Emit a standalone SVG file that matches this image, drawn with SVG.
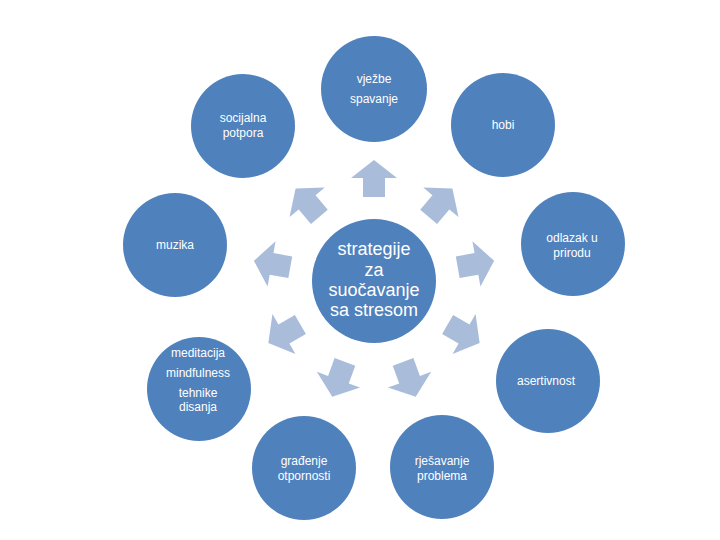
<svg xmlns="http://www.w3.org/2000/svg" width="720" height="540" viewBox="0 0 720 540">
<style>
.c{fill:#4F81BD;}
.t{font-family:"Liberation Sans",Arial,sans-serif;font-size:12px;fill:#ffffff;text-anchor:middle;}
.tc{font-family:"Liberation Sans",Arial,sans-serif;font-size:18px;fill:#ffffff;text-anchor:middle;}
.a{fill:#A9BDDB;}
</style>
<defs>
<path id="arr" d="M85,-11 L104,-11 L104,-23 L122,0 L104,23 L104,11 L85,11 Z"/>
</defs>
<rect width="720" height="540" fill="#ffffff"/>
<g id="connectors" class="a">
<use href="#arr" transform="translate(374,282) rotate(-90)"/>
<use href="#arr" transform="translate(374,282) rotate(-50)"/>
<use href="#arr" transform="translate(374,282) rotate(-10)"/>
<use href="#arr" transform="translate(374,282) rotate(30)"/>
<use href="#arr" transform="translate(374,282) rotate(70)"/>
<use href="#arr" transform="translate(374,282) rotate(110)"/>
<use href="#arr" transform="translate(374,282) rotate(150)"/>
<use href="#arr" transform="translate(374,282) rotate(190)"/>
<use href="#arr" transform="translate(374,282) rotate(230)"/>
</g>
<g id="n-center">
<circle class="c" cx="374" cy="281" r="62"/>
<text class="tc" x="374" y="255">strategije</text>
<text class="tc" x="374" y="276">za</text>
<text class="tc" x="374" y="296">suočavanje</text>
<text class="tc" x="374" y="316">sa stresom</text>
</g>
<g id="n-vjezbe">
<circle class="c" cx="374" cy="89" r="53"/>
<text class="t" x="374" y="83">vježbe</text>
<text class="t" x="374" y="103">spavanje</text>
</g>
<g id="n-hobi">
<circle class="c" cx="503" cy="125" r="52"/>
<text class="t" x="503" y="129">hobi</text>
</g>
<g id="n-odlazak">
<circle class="c" cx="573" cy="244" r="52"/>
<text class="t" x="572" y="242">odlazak u</text>
<text class="t" x="572" y="257">prirodu</text>
</g>
<g id="n-asertivnost">
<circle class="c" cx="548" cy="381" r="52"/>
<text class="t" x="546" y="385">asertivnost</text>
</g>
<g id="n-rjesavanje">
<circle class="c" cx="442" cy="467" r="52"/>
<text class="t" x="442" y="465">rješavanje</text>
<text class="t" x="442" y="480">problema</text>
</g>
<g id="n-gradjenje">
<circle class="c" cx="304" cy="468" r="52"/>
<text class="t" x="304" y="465">građenje</text>
<text class="t" x="304" y="480">otpornosti</text>
</g>
<g id="n-meditacija">
<circle class="c" cx="199" cy="389" r="52"/>
<text class="t" x="198" y="357">meditacija</text>
<text class="t" x="198" y="377">mindfulness</text>
<text class="t" x="198" y="397">tehnike</text>
<text class="t" x="198" y="411">disanja</text>
</g>
<g id="n-muzika">
<circle class="c" cx="175" cy="245" r="52"/>
<text class="t" x="175" y="249">muzika</text>
</g>
<g id="n-socijalna">
<circle class="c" cx="243" cy="126" r="52"/>
<text class="t" x="243" y="122">socijalna</text>
<text class="t" x="243" y="137">potpora</text>
</g>
</svg>
